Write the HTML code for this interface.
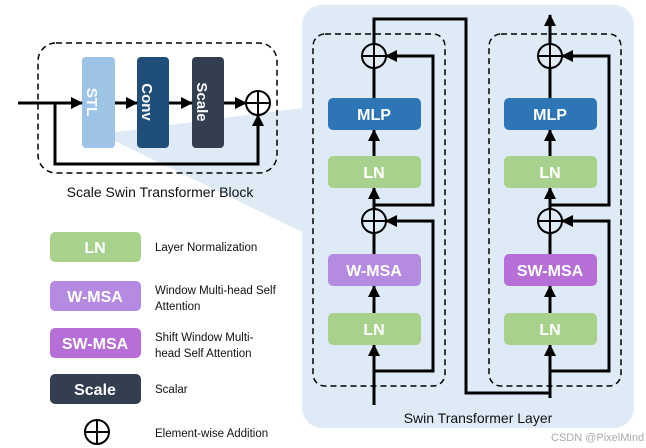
<!DOCTYPE html><html><head><style>body{margin:0;background:#fff}svg{display:block}text{font-family:"Liberation Sans","DejaVu Sans",sans-serif}</style></head><body>
<svg width="646" height="448" viewBox="0 0 646 448" xmlns="http://www.w3.org/2000/svg">
<defs><marker id="b" markerWidth="12" markerHeight="12" refX="11" refY="6" orient="auto" markerUnits="userSpaceOnUse"><path d="M0,0 L12,6 L0,12 z" fill="#000"/></marker></defs>
<rect x="302" y="5" width="332" height="423" rx="20" fill="#deebf7"/>
<polygon points="115,132 302,108 302,232 115,141" fill="#deebf7"/>
<rect x="38" y="43" width="239" height="130" rx="18" fill="none" stroke="#000" stroke-width="1.5" stroke-dasharray="6,4"/>
<rect x="82" y="57" width="33" height="91" rx="4" fill="#9dc3e6"/>
<rect x="137" y="57" width="32" height="91" rx="4" fill="#1f4e79"/>
<rect x="192" y="57" width="32" height="91" rx="4" fill="#333f50"/>
<g fill="#fff" font-weight="bold" font-size="15" text-anchor="middle">
<text transform="translate(92,102) rotate(90)" dy="5">STL</text>
<text transform="translate(147,102) rotate(90)" dy="5">Conv</text>
<text transform="translate(202,102) rotate(90)" dy="5">Scale</text></g>
<g stroke="#000" stroke-width="3" fill="none">
<line x1="18" y1="103" x2="82" y2="103" marker-end="url(#b)"/>
<line x1="115" y1="103" x2="137" y2="103" marker-end="url(#b)"/>
<line x1="169" y1="103" x2="192" y2="103" marker-end="url(#b)"/>
<line x1="224" y1="103" x2="246" y2="103" marker-end="url(#b)"/>
<polyline points="55,103 55,164 258,164 258,115" marker-end="url(#b)"/>
<circle cx="258" cy="103" r="12" stroke-width="2"/><line x1="246" y1="103" x2="270" y2="103" stroke-width="2"/><line x1="258" y1="91" x2="258" y2="115" stroke-width="2"/>
</g>
<text x="160" y="197" font-size="14" text-anchor="middle" fill="#111">Scale Swin Transformer Block</text>
<rect x="50" y="232" width="91" height="30" rx="5" fill="#a9d18e"/>
<rect x="50" y="281" width="91" height="30" rx="5" fill="#b48be0"/>
<rect x="50" y="328" width="91" height="30" rx="5" fill="#b56fd6"/>
<rect x="50" y="374" width="91" height="30" rx="5" fill="#333f50"/>
<g fill="#fff" font-weight="bold" font-size="16" text-anchor="middle">
<text x="95" y="253">LN</text><text x="95" y="302">W-MSA</text><text x="95" y="349">SW-MSA</text><text x="95" y="395">Scale</text></g>
<g font-size="11.5" fill="#111">
<text x="155" y="251">Layer Normalization</text>
<text x="155" y="294">Window Multi-head Self</text><text x="155" y="310">Attention</text>
<text x="155" y="341">Shift Window Multi-</text><text x="155" y="357">head Self Attention</text>
<text x="155" y="393">Scalar</text>
<text x="155" y="437">Element-wise Addition</text></g>
<g stroke="#000" stroke-width="2" fill="none"><circle cx="97" cy="432" r="12"/><line x1="85" y1="432" x2="109" y2="432"/><line x1="97" y1="420" x2="97" y2="444"/></g>
<rect x="313" y="34" width="132" height="352" rx="12" fill="none" stroke="#000" stroke-width="1.5" stroke-dasharray="6,4"/>
<rect x="489" y="34" width="132" height="352" rx="12" fill="none" stroke="#000" stroke-width="1.5" stroke-dasharray="6,4"/>
<g id="col">
<g stroke="#000" stroke-width="3" fill="none">
<line x1="374" y1="405" x2="374" y2="345" marker-end="url(#b)"/>
<polyline points="374,371 433,371 433,221 386,221" marker-end="url(#b)"/>
<line x1="374" y1="254" x2="374" y2="233"/>
<line x1="374" y1="313" x2="374" y2="286" marker-end="url(#b)"/>
<line x1="374" y1="209" x2="374" y2="188" marker-end="url(#b)"/>
<polyline points="374,205 433,205 433,56 386,56" marker-end="url(#b)"/>
<line x1="374" y1="156" x2="374" y2="130" marker-end="url(#b)"/>
<line x1="374" y1="98" x2="374" y2="68"/>
<circle cx="374" cy="221" r="12" stroke-width="2"/><line x1="362" y1="221" x2="386" y2="221" stroke-width="2"/><line x1="374" y1="209" x2="374" y2="233" stroke-width="2"/>
<circle cx="374" cy="56" r="12" stroke-width="2"/><line x1="362" y1="56" x2="386" y2="56" stroke-width="2"/><line x1="374" y1="44" x2="374" y2="68" stroke-width="2"/>
</g>
<rect x="328" y="98" width="93" height="32" rx="5" fill="#2e75b6"/>
<rect x="328" y="156" width="93" height="32" rx="5" fill="#a9d18e"/>
<rect x="328" y="313" width="93" height="32" rx="5" fill="#a9d18e"/>
<g fill="#fff" font-weight="bold" font-size="16" text-anchor="middle">
<text x="374" y="120">MLP</text><text x="374" y="178">LN</text><text x="374" y="335">LN</text></g>
</g>
<rect x="328" y="254" width="93" height="32" rx="5" fill="#b48be0"/>
<text x="374" y="276" fill="#fff" font-weight="bold" font-size="16" text-anchor="middle">W-MSA</text>
<use href="#col" x="176"/>
<rect x="504" y="254" width="93" height="32" rx="5" fill="#b56fd6"/>
<text x="550" y="276" fill="#fff" font-weight="bold" font-size="16" text-anchor="middle">SW-MSA</text>
<rect x="540" y="398" width="20" height="10" fill="#deebf7"/>
<g stroke="#000" stroke-width="3" fill="none">
<polyline points="374,44 374,19 466,19 466,393 550,393 550,371"/>
<line x1="550" y1="44" x2="550" y2="15" marker-end="url(#b)"/>
</g>
<text x="478" y="423" font-size="14" text-anchor="middle" fill="#111">Swin Transformer Layer</text>
<text x="551" y="441" font-size="11" fill="#aaa">CSDN @PixelMind</text>
</svg></body></html>
